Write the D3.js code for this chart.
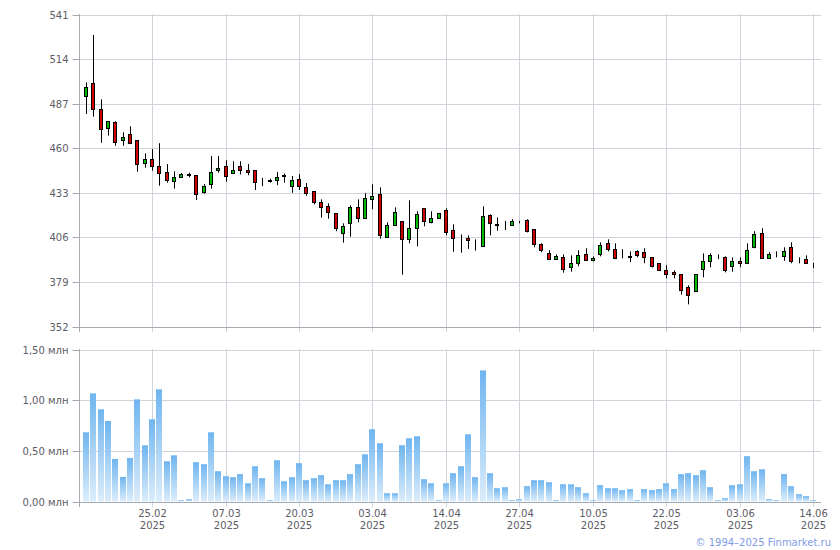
<!DOCTYPE html>
<html><head><meta charset="utf-8">
<script src="https://cdn.jsdelivr.net/npm/d3@7"></script>
<style>html,body{margin:0;padding:0;background:#fff}svg{display:block}</style>
</head><body>
<svg id="c" width="840" height="550"></svg>
<script>
const dates = ["12.02","13.02","14.02","17.02","18.02","19.02","20.02","21.02","24.02","25.02",
"26.02","27.02","28.02","01.03","02.03","03.03","04.03","05.03","06.03","07.03",
"10.03","11.03","12.03","13.03","14.03","15.03","17.03","18.03","19.03","20.03",
"21.03","24.03","25.03","26.03","27.03","28.03","31.03","01.04","02.04","03.04",
"04.04","05.04","06.04","07.04","08.04","09.04","10.04","11.04","12.04","14.04",
"15.04","16.04","17.04","18.04","21.04","22.04","23.04","24.04","26.04","27.04",
"28.04","29.04","30.04","02.05","03.05","05.05","06.05","07.05","08.05","10.05",
"12.05","13.05","14.05","15.05","16.05","17.05","19.05","20.05","21.05","22.05",
"23.05","26.05","27.05","28.05","29.05","30.05","31.05","01.06","02.06","03.06",
"04.06","05.06","06.06","07.06","08.06","09.06","10.06","11.06","13.06","14.06"];
const open = [491.8,499.3,483.6,472.4,475.7,464.8,468.4,464.8,451.2,453.3,
449.2,445.4,440.0,442.4,444.2,443.8,433.7,438.1,446.6,449.2,
444.8,449.2,446.8,446.8,440.3,440.5,440.7,443.5,437.3,441.2,
436.3,433.9,427.2,424.8,420.6,408.5,414.5,424.2,417.5,429.0,
432.1,406.0,413.3,415.7,404.8,411.5,423.6,415.1,417.5,422.4,
410.3,405.5,405.4,401.3,401.0,419.4,413.8,413.5,413.3,415.3,
416.3,410.9,401.8,396.3,393.0,393.9,387.9,390.3,395.7,392.1,
395.7,402.4,398.8,394.0,395.0,397.5,396.9,393.9,390.3,386.0,
384.8,383.6,375.7,373.3,386.6,391.5,394.0,393.9,388.5,391.5,
390.5,400.0,408.5,393.3,395.8,394.5,400.0,392.2,392.7,390.3];
const high = [499.9,528.6,489.6,476.5,476.3,469.6,473.3,464.8,456.9,459.5,
463.0,450.4,446.0,445.0,445.2,443.8,438.3,455.3,455.3,452.7,
452.1,452.1,450.4,446.8,442.0,441.5,445.6,444.6,443.2,444.4,
438.9,433.9,429.0,426.6,420.6,414.5,425.4,429.0,432.7,438.1,
436.3,415.1,424.2,415.7,428.4,421.8,423.6,421.8,420.8,423.6,
413.9,407.8,407.2,404.8,424.8,420.0,418.1,416.0,417.0,416.0,
417.0,410.9,402.4,398.2,395.7,395.7,395.1,398.2,399.4,394.5,
403.0,404.8,402.4,398.8,397.5,398.2,399.4,393.9,390.3,389.1,
386.0,383.6,376.9,383.6,396.3,396.3,395.7,394.5,393.9,393.9,
402.4,409.7,411.5,397.0,397.5,400.0,403.0,393.9,395.1,390.5];
const low = [480.7,479.1,463.3,467.6,461.5,461.5,462.5,445.8,448.2,446.4,
437.3,439.1,435.5,442.0,442.3,428.6,432.4,435.5,445.2,439.7,
444.4,444.1,443.6,434.7,437.0,439.2,437.6,439.1,433.0,434.7,
431.2,426.0,417.9,417.3,409.7,402.8,406.4,415.1,417.0,423.0,
405.2,406.0,413.0,383.4,402.4,400.6,412.7,414.5,417.3,407.2,
397.3,396.7,399.0,398.0,400.5,407.2,410.0,410.5,413.0,414.5,
409.0,400.0,397.0,392.8,392.5,384.6,385.2,388.5,392.0,391.5,
394.5,397.5,392.8,393.3,391.0,393.9,390.3,387.7,385.8,381.2,
381.2,371.3,365.4,373.3,381.8,387.9,392.8,384.8,385.2,387.9,
390.0,399.4,393.3,393.0,393.9,391.8,390.3,390.3,390.0,387.3];
const close = [496.9,483.9,471.8,476.3,463.9,466.8,463.3,450.3,453.3,449.0,
444.8,440.6,442.4,444.2,443.6,432.4,436.9,445.4,448.0,443.0,
446.8,446.6,445.8,439.7,440.1,440.4,442.4,443.2,440.6,436.9,
432.7,427.2,424.2,421.2,411.5,412.7,424.2,417.5,429.7,430.9,
407.2,413.3,421.2,404.8,411.5,419.9,415.7,417.5,420.6,409.1,
405.4,405.4,404.2,401.2,418.7,414.5,413.7,413.5,415.7,415.4,
410.0,401.8,398.2,393.0,394.7,386.6,390.3,395.1,392.1,393.3,
401.2,398.8,393.3,393.9,393.9,395.1,393.9,388.5,386.0,383.6,
383.6,373.9,370.9,383.6,391.5,395.1,393.9,386.0,391.5,390.3,
398.2,407.8,393.3,395.7,395.7,397.5,391.5,392.1,390.3,390.3];
const volume = [0.683,1.067,0.910,0.795,0.420,0.243,0.430,1.008,0.555,0.811,
1.107,0.397,0.456,0.013,0.023,0.388,0.368,0.683,0.299,0.250,
0.240,0.270,0.180,0.348,0.230,0.013,0.407,0.200,0.240,0.378,
0.210,0.230,0.260,0.170,0.210,0.210,0.270,0.368,0.466,0.713,
0.575,0.082,0.082,0.555,0.624,0.644,0.220,0.180,0.013,0.180,
0.279,0.348,0.663,0.240,1.294,0.279,0.131,0.141,0.013,0.023,
0.151,0.210,0.210,0.190,0.013,0.170,0.170,0.141,0.082,0.013,
0.161,0.131,0.131,0.112,0.122,0.013,0.122,0.112,0.122,0.180,
0.122,0.270,0.279,0.260,0.309,0.141,0.013,0.033,0.161,0.170,
0.447,0.299,0.318,0.023,0.013,0.270,0.151,0.072,0.053,0.013];
const priceTicks = [352,379,406,433,460,487,514,541];
const volumeTicks = [0,0.5,1.0,1.5];
const dateTicks = ["25.02","07.03","20.03","03.04","14.04","27.04","10.05","22.05","03.06","14.06"];
const tickYear = "2025";

const svg = d3.select("#c");
const L = 80, R = 821;
const gridC = "#cfd4da", axisC = "#a4a9b2", txtC = "#5c5c66";
const font = "DejaVu Sans, Verdana, sans-serif";

const x = d3.scaleBand().domain(dates).range([82.3, 816.9]);
const xC = d => Math.round(x(d) + x.bandwidth()/2) + 0.5;

const y = d3.scaleLinear().domain([352,541]).range([326.5,14.5]);
const yv = d3.scaleLinear().domain([0,1.5]).range([501.5,349.5]);

const defs = svg.append("defs");
const g = defs.append("linearGradient").attr("id","vg").attr("x1",0).attr("y1",0).attr("x2",0).attr("y2",1);
g.append("stop").attr("offset","0%").attr("stop-color","#6fb5f0");
g.append("stop").attr("offset","100%").attr("stop-color","#dcedfb");

function panel(ys, ticks, fmt, top, bottom) {
  const gg = svg.append("g");
  gg.selectAll("line.h").data(ticks).join("line")
    .attr("x1",L).attr("x2",R).attr("y1",d=>Math.round(ys(d))+0.5).attr("y2",d=>Math.round(ys(d))+0.5)
    .attr("stroke",gridC).attr("stroke-width",1);
  gg.selectAll("line.v").data(dateTicks).join("line")
    .attr("x1",xC).attr("x2",xC).attr("y1",top).attr("y2",bottom+6)
    .attr("stroke",gridC).attr("stroke-width",1);
  const ax = d3.axisLeft(ys).tickValues(ticks).tickSize(7).tickPadding(4).tickFormat(fmt);
  const a = gg.append("g").attr("transform","translate(79.5,0.5)").call(ax);
  a.select(".domain").remove();
  a.selectAll(".tick line").attr("stroke",axisC);
  a.selectAll(".tick").attr("transform",d=>"translate(0,"+(Math.round(ys(d)))+")");
  a.selectAll("text").attr("fill",txtC).attr("font-family",font).attr("font-size",10).attr("dy","0.35em");
  gg.append("line").attr("x1",79.5).attr("x2",79.5).attr("y1",top).attr("y2",bottom+6).attr("stroke",axisC);
  gg.append("line").attr("x1",L).attr("x2",R).attr("y1",Math.round(ys(ticks[0]))+0.5).attr("y2",Math.round(ys(ticks[0]))+0.5).attr("stroke",axisC);
  return gg;
}

panel(y, priceTicks, d=>d, 14, 326);
panel(yv, volumeTicks, d=>d3.format(".2f")(d).replace(".",",")+" млн", 349, 501);

const idx = d3.range(dates.length);
const cg = svg.append("g");
cg.selectAll("line.w").data(idx).join("line")
  .attr("x1",i=>xC(dates[i])).attr("x2",i=>xC(dates[i]))
  .attr("y1",i=>y(high[i])).attr("y2",i=>y(low[i]))
  .attr("stroke","#000").attr("stroke-width",1);
cg.selectAll("rect").data(idx).join("rect")
  .attr("x",i=>xC(dates[i])-2)
  .attr("width",3)
  .attr("y",i=>Math.round(y(Math.max(open[i],close[i])))+0.5)
  .attr("height",i=>Math.max(0,Math.round(y(Math.min(open[i],close[i])))-Math.round(y(Math.max(open[i],close[i])))))
  .attr("fill",i=>close[i]>open[i]?"#00bb00":(close[i]<open[i]?"#d00000":"#000"))
  .attr("stroke","#000").attr("stroke-width",1);

svg.append("g").selectAll("rect").data(idx).join("rect")
  .attr("x",i=>xC(dates[i])-3.5).attr("width",6)
  .attr("y",i=>yv(volume[i])).attr("height",i=>yv(0)-yv(volume[i]))
  .attr("fill","url(#vg)");

const xl = svg.append("g");
xl.selectAll("text.d").data(dateTicks).join("text")
  .attr("x",xC).attr("y",517).attr("text-anchor","middle")
  .attr("font-family",font).attr("font-size",10).attr("fill",txtC).text(d=>d);
xl.selectAll("text.yr").data(dateTicks).join("text")
  .attr("x",xC).attr("y",529).attr("text-anchor","middle")
  .attr("font-family",font).attr("font-size",10).attr("fill",txtC).text(tickYear);

svg.append("text").attr("x",831).attr("y",546).attr("text-anchor","end")
  .attr("font-family",font).attr("font-size",10).attr("fill","#7f9be6")
  .text("© 1994–2025 Finmarket.ru");
</script>
</body></html>
